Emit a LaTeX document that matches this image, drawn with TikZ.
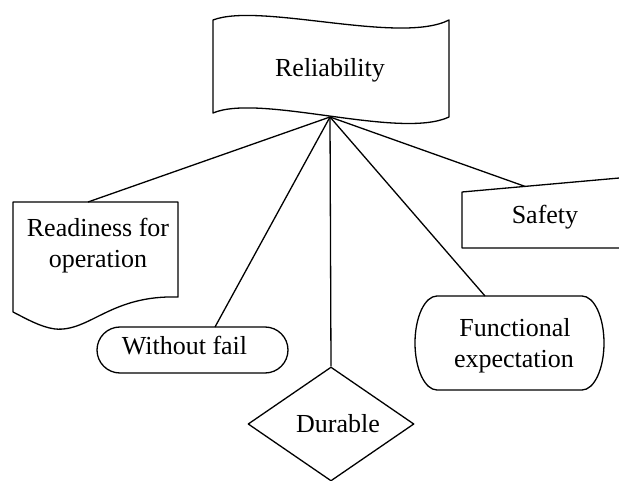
\documentclass[tikz,border=0pt]{standalone}
\usepackage{fontspec}
\setmainfont{Liberation Serif}
\usetikzlibrary{shapes.geometric,shapes.misc}
\begin{document}
\begin{tikzpicture}[x=1pt,y=1pt,
  shp/.style={draw=black,line width=1.3pt,line join=round},
  conn/.style={draw=black,line width=1.3pt},
  txt/.style={font=\fontsize{26}{30}\selectfont,anchor=base,inner sep=0pt}]
\useasboundingbox (0,0) rectangle (619,-481);
% Reliability banner
\draw[shp] (213,-20) .. controls (260,-2) and (400,-45) .. (449,-20)
  -- (449,-117) .. controls (400,-140) and (260,-93) .. (213,-113) -- cycle;
\node[txt] (rel) at (330,-77) {Reliability};
\coordinate (hub) at (330,-117);
% Readiness for operation (document)
\draw[shp] (13,-202) -- (178,-202) -- (178,-297)
  .. controls (110,-295) and (90,-332) .. (55,-329)
  .. controls (40,-327) and (25,-318) .. (13,-312) -- cycle;
\node[txt] (rd1) at (98,-237) {Readiness for};
\node[txt] (rd2) at (98,-268) {operation};
\coordinate (rdtop) at (88,-202);
% Without fail (stadium)
\node[shp,rounded rectangle,minimum width=191pt,minimum height=46pt,inner sep=0pt] (wfs) at (192.5,-350) {};
\node[txt] (wft) at (184.5,-354) {Without fail};
\coordinate (wftop) at (215,-327);
% Durable (diamond)
\node[shp,diamond,minimum width=166pt,minimum height=114pt,inner sep=0pt] (dur) at (331,-424) {};
\node[txt] (durt) at (338,-432) {Durable};
% Functional expectation
\draw[shp] (437,-296) -- (582,-296) arc[start angle=90,end angle=-90,x radius=22,y radius=47]
  -- (437,-390) arc[start angle=270,end angle=90,x radius=22,y radius=47] -- cycle;
\node[txt] (fe1) at (515,-337) {Functional};
\node[txt] (fe2) at (514,-367) {expectation};
\coordinate (fetop) at (485,-296);
% Safety (manual input, clipped)
\draw[shp] (625,-177.5) -- (462,-192) -- (462,-248) -- (625,-248);
\node[txt] (saf) at (545,-224) {Safety};
\coordinate (satop) at (525,-186.4);
% connectors
\draw[conn] (hub) -- (rdtop);
\draw[conn] (hub) -- (wftop);
\draw[conn] (hub) -- (dur.north);
\draw[conn] (hub) -- (fetop);
\draw[conn] (hub) -- (satop);
\end{tikzpicture}
\end{document}
